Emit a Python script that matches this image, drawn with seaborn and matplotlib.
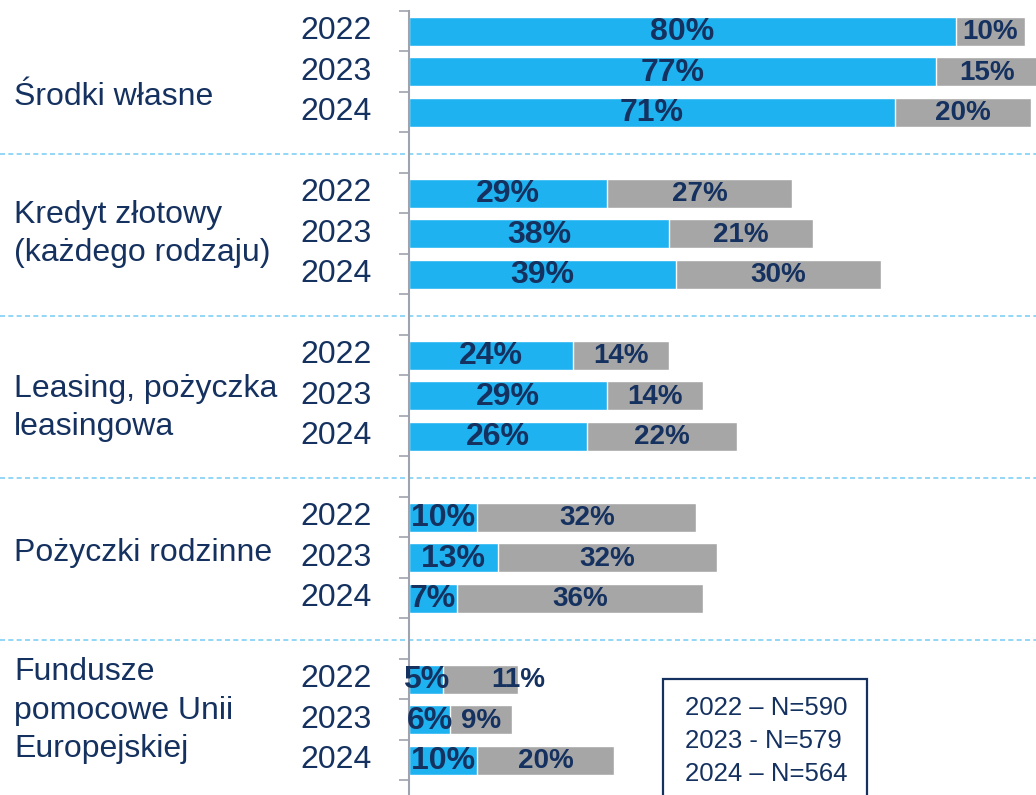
import numpy as np
import pandas as pd
import matplotlib
matplotlib.use("Agg")
import matplotlib.pyplot as plt
import matplotlib.transforms as mtransforms
from matplotlib.patches import Rectangle
import seaborn as sns

# ── Data ───────────────────────────────────────────────────────────────────────
categories = [
    "Środki własne",
    "Kredyt złotowy\n(każdego rodzaju)",
    "Leasing, pożyczka\nleasingowa",
    "Pożyczki rodzinne",
    "Fundusze\npomocowe Unii\nEuropejskiej",
]
years = ["2022", "2023", "2024"]
blue_vals = [
    [80, 77, 71],
    [29, 38, 39],
    [24, 29, 26],
    [10, 13, 7],
    [5, 6, 10],
]
gray_vals = [
    [10, 15, 20],
    [27, 21, 30],
    [14, 14, 22],
    [32, 32, 36],
    [11, 9, 20],
]
legend_lines = ["2022 – N=590", "2023 - N=579", "2024 – N=564"]

# ── Style ──────────────────────────────────────────────────────────────────────
BLUE  = "#1EB2F0"
GRAY  = "#A6A6A6"
NAVY  = "#15315F"
AXIS  = "#A0A3AD"
DASH  = "#7FCFF6"
W, H  = 1036, 795

sns.set_style("white")
plt.rcParams["font.family"] = ["Liberation Sans", "DejaVu Sans"]

rows = []
for g in range(len(categories)):
    for j in range(len(years)):
        rows.append({
            "slot": g * 4 + j,
            "blue": blue_vals[g][j],
            "gray": gray_vals[g][j],
        })
df = pd.DataFrame(rows)
df["total"] = df["blue"] + df["gray"]

fig = plt.figure(figsize=(W / 100, H / 100), dpi=100)
ax = fig.add_axes([409 / W, 0, (W - 409) / W, 1 - 11 / H])

sns.barplot(data=df, x="total", y="slot", orient="h", native_scale=True,
            color=GRAY, saturation=1, width=0.72, errorbar=None, ax=ax)
sns.barplot(data=df, x="blue", y="slot", orient="h", native_scale=True,
            color=BLUE, saturation=1, width=0.72, errorbar=None, ax=ax)

ax.set_xlim(0, (W - 409) / 6.84)
ax.set_ylim(18.86, -0.5)
ax.set_xlabel("")
ax.set_ylabel("")
ax.set_xticks([])
ax.set_yticks(np.arange(-0.5, 19, 1))
ax.set_yticklabels([])
ax.tick_params(axis="y", left=True, length=7.5, width=1.2, color=AXIS, direction="out")
for side in ["top", "right", "bottom"]:
    ax.spines[side].set_visible(False)
ax.spines["left"].set_color(AXIS)
ax.spines["left"].set_linewidth(1.5)

# bar labels (one label nudged right so it clears the small blue one)
gray_shift = {(4, 0): 5.5}
for _, r in df.iterrows():
    g, j = int(r.slot) // 4, int(r.slot) % 4
    ax.text(r.blue / 2, r.slot + 0.03, f"{int(r.blue)}%", ha="center", va="center",
            fontsize=23, fontweight="bold", color=NAVY)
    ax.text(r.blue + r.gray / 2 + gray_shift.get((g, j), 0), r.slot + 0.03,
            f"{int(r.gray)}%", ha="center", va="center", fontsize=20,
            fontweight="bold", color=NAVY)

# year and category labels, dashed group separators
tr = mtransforms.blended_transform_factory(fig.transFigure, ax.transData)
cat_y = [1.62, 5.0, 9.3, 12.88, 16.78]
for g, cat in enumerate(categories):
    for j, yr in enumerate(years):
        ax.text(372 / W, g * 4 + j, yr, transform=tr, ha="right", va="center",
                fontsize=23, color=NAVY)
    ax.text(14 / W, cat_y[g], cat, transform=tr, ha="left", va="center",
            fontsize=23, color=NAVY, linespacing=1.36)
    if g < len(categories) - 1:
        ax.plot([0, 1], [g * 4 + 3.03, g * 4 + 3.03], transform=tr, color=DASH,
                lw=1.2, ls=(0, (3, 2)), clip_on=False)

# sample-size box
fig.patches.append(Rectangle((663 / W, -0.05), (867 - 663) / W, 0.05 + (H - 679) / H,
                             transform=fig.transFigure, fill=False,
                             edgecolor=NAVY, lw=1.6))
for k, line in enumerate(legend_lines):
    fig.text(685 / W, 1 - (708 + 33 * k) / H, line, ha="left", va="center",
             fontsize=18.5, color=NAVY)

fig.savefig("out.png", dpi=100)
